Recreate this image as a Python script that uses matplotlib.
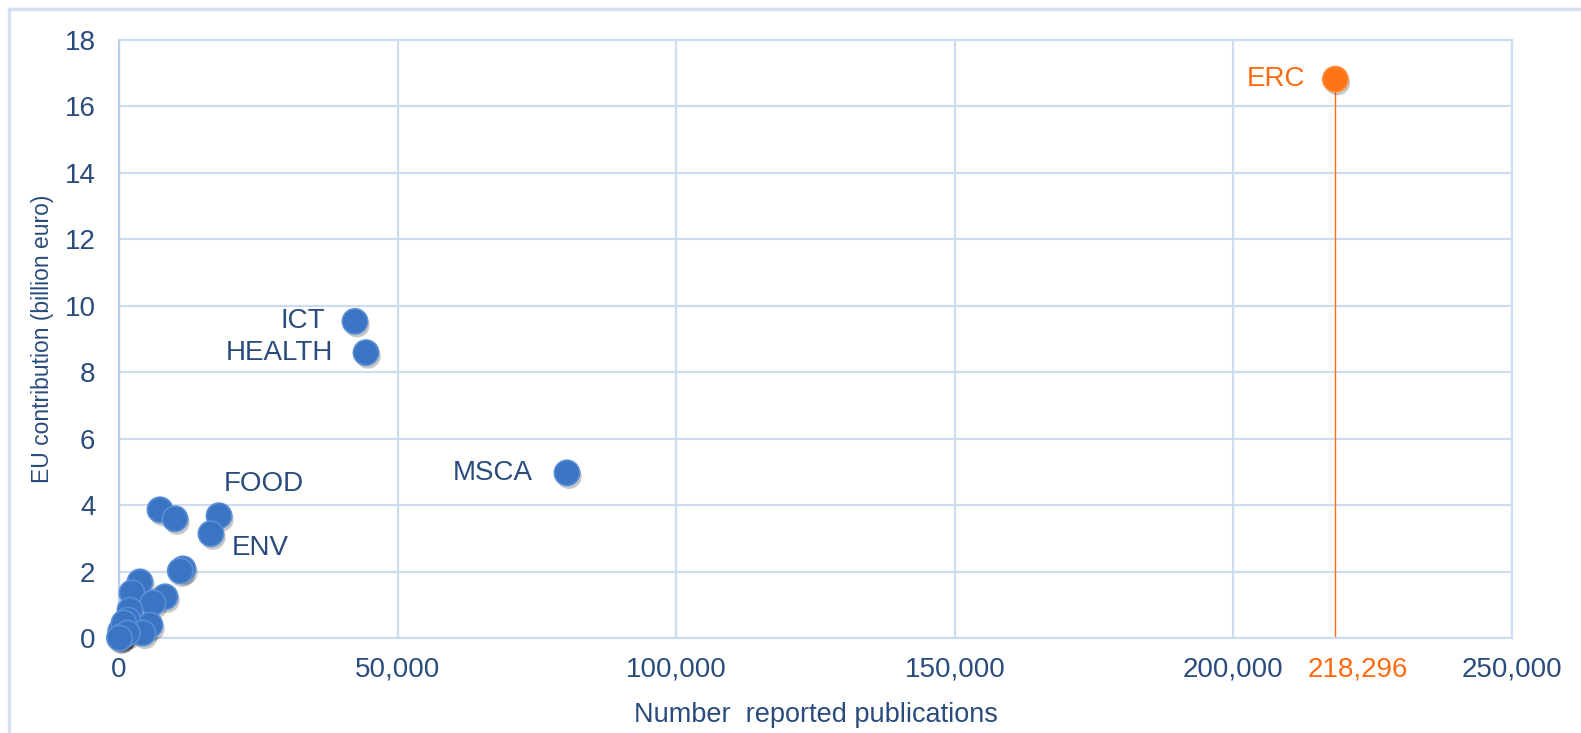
import matplotlib
matplotlib.use("Agg")
import matplotlib.pyplot as plt
import matplotlib.patheffects as pe
from matplotlib.patches import Rectangle

plt.rcParams['font.family'] = ['Liberation Sans', 'DejaVu Sans']

# ---- data ----
pub_blue = [42350, 44330, 80400, 17950, 16500, 7360, 10050, 11490, 11000,
            3770, 2330, 8260, 6100, 1970, 5560, 1600, 4300, 720, 180, 700,
            300, 1200, 900, 500, 1500, 100]
eur_blue = [9.53, 8.59, 4.97, 3.68, 3.14, 3.86, 3.59, 2.08, 2.02,
            1.69, 1.36, 1.24, 1.06, 0.84, 0.39, 0.54, 0.15, 0.33, 0.03, 0.10,
            0.20, 0.25, 0.45, 0.05, 0.15, 0.0]
erc_pub = 218296
erc_eur = 16.82

labels = ["ICT", "HEALTH", "MSCA", "FOOD", "ENV"]
label_idx = [0, 1, 2, 3, 4]
label_offsets = [(-30, 0, 'right'), (-33, 0, 'right'), (-34, 0, 'right'),
                 (5, 32, 'left'), (21, -14, 'left')]

xticks = [0, 50000, 100000, 150000, 200000, 250000]
xticklabels = ["0", "50,000", "100,000", "150,000", "200,000", "250,000"]
yticks = [0, 2, 4, 6, 8, 10, 12, 14, 16, 18]

TXT = '#2a4c7d'
GRID = '#cddcf0'
ORANGE = '#ff6a10'
FS = 20

fig = plt.figure(figsize=(15.81, 7.33), dpi=100)
fig.patches.append(Rectangle((9/1581, -0.1), 1.2, 1 - 9/733 + 0.1, transform=fig.transFigure,
                             fill=False, edgecolor='#d5e2f3', lw=2.5))
ax = fig.add_axes([119/1581, 1 - 638/733, 1393/1581, 598/733])

ax.set_xlim(0, 250000)
ax.set_ylim(0, 18)
ax.set_xticks(xticks)
ax.set_xticklabels(xticklabels)
ax.set_yticks(yticks)
ax.grid(True, color=GRID, lw=1.6)
ax.set_axisbelow(True)
for s in ax.spines.values():
    s.set_color(GRID)
    s.set_linewidth(1.6)
ax.spines['left'].set_color('#b7cdeb')
ax.tick_params(length=0, colors=TXT, labelsize=FS)
ax.tick_params(axis='x', pad=13.5)
ax.tick_params(axis='y', pad=17)

shadow = [pe.SimplePatchShadow(offset=(1.5, -2.5), shadow_rgbFace='k', alpha=0.22), pe.Normal()]

# ERC drop line
ax.plot([erc_pub, erc_pub], [0, erc_eur], color=ORANGE, lw=1.0, zorder=2)

sc = ax.scatter(pub_blue, eur_blue, s=330, color='#3a74c2', edgecolor='#5a8ed6',
                linewidth=1.2, zorder=3, clip_on=False)
sc.set_path_effects(shadow)
sc2 = ax.scatter([erc_pub], [erc_eur], s=330, color='#ff7415', edgecolor='#ff8a3c',
                 linewidth=1.2, zorder=3, clip_on=False)
sc2.set_path_effects(shadow)

for lab, i, (dx, dy, ha) in zip(labels, label_idx, label_offsets):
    ax.annotate(lab, (pub_blue[i], eur_blue[i]), xytext=(dx, dy), textcoords='offset pixels',
                ha=ha, va='center', color=TXT, fontsize=FS)
ax.annotate("ERC", (erc_pub, erc_eur), xytext=(-30, 0), textcoords='offset pixels',
            ha='right', va='center', color=ORANGE, fontsize=FS)
ax.annotate(f"{erc_pub:,}", (erc_pub, 0), xytext=(22, -19), textcoords='offset pixels',
            ha='center', va='top', color=ORANGE, fontsize=FS, annotation_clip=False)

ax.set_xlabel("Number  reported publications", color=TXT, fontsize=19.5, labelpad=14)
ax.set_ylabel("EU contribution (billion euro)", color=TXT, fontsize=16.5, labelpad=7.5)

fig.savefig("out.png", dpi=100, facecolor='white')
